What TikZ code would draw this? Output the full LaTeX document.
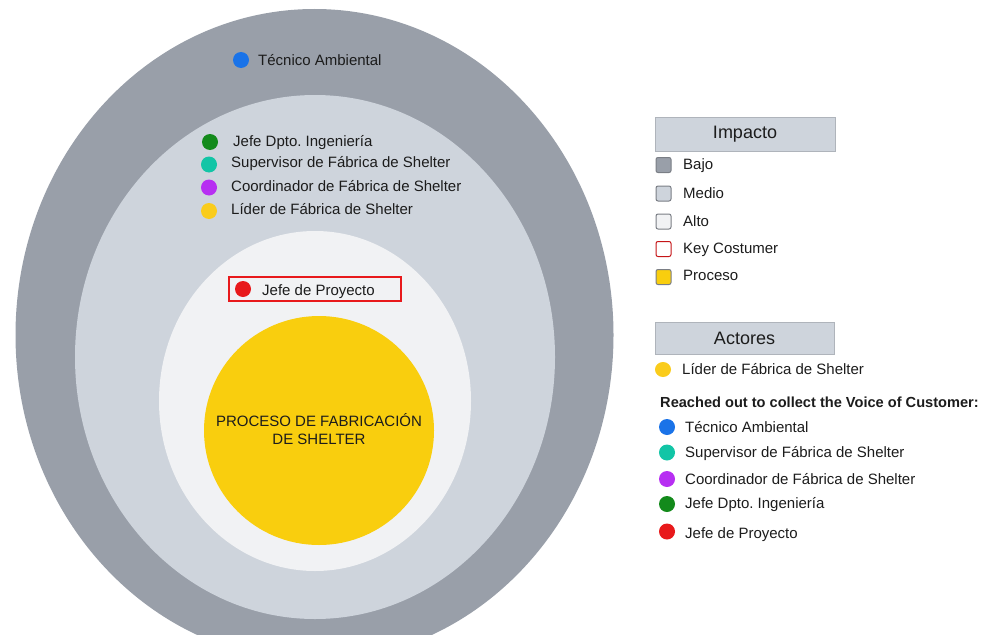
\documentclass[tikz,border=0pt]{standalone}
\usepackage{fontspec}
\setmainfont{Liberation Sans}
\frenchspacing
\usetikzlibrary{shapes.geometric}
\definecolor{outerg}{HTML}{999FA9}
\definecolor{midg}{HTML}{CED4DC}
\definecolor{innerg}{HTML}{F1F2F4}
\definecolor{procy}{HTML}{F9CE0E}
\definecolor{dblue}{HTML}{1A73E8}
\definecolor{dteal}{HTML}{12C5A6}
\definecolor{dpurple}{HTML}{B72FF2}
\definecolor{dgreen}{HTML}{138A1B}
\definecolor{dyellow}{HTML}{FACC1C}
\definecolor{dred}{HTML}{E8191B}
\definecolor{txt}{HTML}{1C1C1C}
\definecolor{sqborder}{HTML}{7A7E85}
\begin{document}
\begin{tikzpicture}[x=1pt,y=-1pt,
  ring/.style={ellipse,draw=none,inner sep=0pt},
  dot/.style={circle,fill=#1,draw=none,minimum size=16pt,inner sep=0pt},
  lbl/.style={anchor=base west,inner sep=0pt,font=\fontsize{15}{18}\selectfont,text=txt},
  sq/.style={rectangle,rounded corners=2pt,draw=sqborder,line width=1pt,fill=#1,minimum size=15pt,inner sep=0pt},
  hdr/.style={rectangle,fill=midg,draw=midg!85!black,line width=0.4pt,inner sep=0pt,font=\fontsize{18}{21}\selectfont,text=txt}
]
\useasboundingbox (0,0) rectangle (987,634);
\clip (0,0) rectangle (987,634);
% rings
\node[ring,fill=outerg,minimum width=598pt,minimum height=652pt] (outer) at (314.5,335) {};
\node[ring,fill=midg,minimum width=480pt,minimum height=524pt] (mid) at (315,357) {};
\node[ring,fill=innerg,minimum width=312pt,minimum height=340pt] (inner) at (315,401) {};
\node[ring,fill=procy,minimum width=230pt,minimum height=229pt] (proc) at (319,430.5) {};
\node[align=center,inner sep=0pt,font=\fontsize{15}{18}\selectfont,text=txt] (proct) at (319,429) {PROCESO DE FABRICACIÓN\\DE SHELTER};
% outer ring actors
\node[dot=dblue] (d1) at (241,60) {};
\node[lbl] (t1) at (258,65) {Técnico Ambiental};
% middle ring actors
\node[dot=dgreen] (d2) at (210,142) {};
\node[lbl] (t2) at (233,146) {Jefe Dpto. Ingeniería};
\node[dot=dteal] (d3) at (209,164.5) {};
\node[lbl] (t3) at (231,167.5) {Supervisor de Fábrica de Shelter};
\node[dot=dpurple] (d4) at (209,187.5) {};
\node[lbl] (t4) at (231,191) {Coordinador de Fábrica de Shelter};
\node[dot=dyellow] (d5) at (209,211) {};
\node[lbl] (t5) at (231,214.5) {Líder de Fábrica de Shelter};
% inner ring: key customer
\node[rectangle,draw=dred,line width=1.4pt,fill=innerg,minimum width=172pt,minimum height=24pt,inner sep=0pt] (kbox) at (315,289) {};
\node[dot=dred] (d6) at (243,289) {};
\node[lbl] (t6) at (262,295) {Jefe de Proyecto};
% legend: Impacto
\node[hdr,minimum width=180pt,minimum height=34pt] (himp) at (745,134) {Impacto};
\node[sq=outerg] (s1) at (663.5,165) {};
\node[lbl] (l1) at (683,169.5) {Bajo};
\node[sq=midg] (s2) at (663.5,193.5) {};
\node[lbl] (l2) at (683,198) {Medio};
\node[sq=innerg] (s3) at (663.5,221.5) {};
\node[lbl] (l3) at (683,226) {Alto};
\node[sq=white,draw=dred!85!black] (s4) at (663.5,249) {};
\node[lbl] (l4) at (683,253) {Key Costumer};
\node[sq=procy] (s5) at (663.5,277) {};
\node[lbl] (l5) at (683,280.5) {Proceso};
% legend: Actores
\node[hdr,minimum width=179pt,minimum height=32pt] (hact) at (744.5,338) {Actores};
\node[dot=dyellow,minimum width=16pt,minimum height=15pt,ellipse] (a0) at (663,369.5) {};
\node[lbl] (la0) at (682,374.5) {Líder de Fábrica de Shelter};
\node[lbl,font=\fontsize{14.6}{18}\selectfont\bfseries] (rh) at (660,407.5) {Reached out to collect the Voice of Customer:};
\node[dot=dblue] (a1) at (667,427) {};
\node[lbl] (la1) at (685,432.5) {Técnico Ambiental};
\node[dot=dteal] (a2) at (667,452.5) {};
\node[lbl] (la2) at (685,457.5) {Supervisor de Fábrica de Shelter};
\node[dot=dpurple] (a3) at (667,479) {};
\node[lbl] (la3) at (685,484) {Coordinador de Fábrica de Shelter};
\node[dot=dgreen] (a4) at (667,504) {};
\node[lbl] (la4) at (685,508) {Jefe Dpto. Ingeniería};
\node[dot=dred] (a5) at (667,531.5) {};
\node[lbl] (la5) at (685,538) {Jefe de Proyecto};
\end{tikzpicture}
\end{document}
